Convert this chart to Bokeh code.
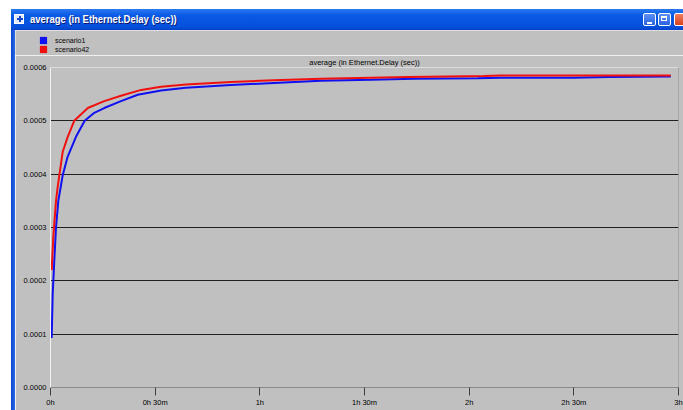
from bokeh.plotting import figure
from bokeh.models import (Range1d, FixedTicker, PrintfTickFormatter, Span, Legend, LegendItem, Div, Title)
from bokeh.layouts import column, row
from bokeh.embed import file_html
from bokeh.resources import INLINE

# ---- data (time in minutes, delay in seconds) ----
t_scenario1 = [0.34, 0.63, 1.09, 1.58, 2.24, 3.5, 4.93, 7.3, 9.8, 12.55, 15.4, 20.2, 25.0, 31.7,
               38.8, 51.7, 64.0, 77.5, 91.9, 104.2, 122.5, 129.0, 150.0, 160.0, 177.8]
v_scenario1 = [0.000093, 0.000176, 0.000238, 0.000300, 0.000350, 0.000398, 0.000433, 0.000470,
               0.000500, 0.000515, 0.000524, 0.000537, 0.000549, 0.000557, 0.000562, 0.000567,
               0.000571, 0.000575, 0.000577, 0.000579, 0.000580, 0.000581, 0.000581, 0.000582, 0.000583]

t_scenario42 = [0.34, 0.8, 1.09, 1.58, 2.06, 3.5, 4.93, 6.8, 10.7, 15.4, 20.2, 26.0, 31.7, 38.8,
                51.7, 64.0, 77.5, 102.6, 124.3, 129.0, 150.0, 177.8]
v_scenario42 = [0.000220, 0.000282, 0.000308, 0.000350, 0.000376, 0.000442, 0.000470, 0.000500,
                0.000524, 0.000537, 0.000547, 0.000558, 0.000564, 0.000568, 0.000573, 0.000576,
                0.000579, 0.000582, 0.000584, 0.000585, 0.000585, 0.000585]

series_names = ["scenario1", "scenario42"]
series_colors = ["#1010f0", "#f01010"]

x_ticks = [0, 30, 60, 90, 120, 150, 180]
x_tick_labels = ["0h", "0h 30m", "1h", "1h 30m", "2h", "2h 30m", "3h"]
y_ticks = [0.0, 0.0001, 0.0002, 0.0003, 0.0004, 0.0005, 0.0006]
grid_ticks = [0.0001, 0.0002, 0.0003, 0.0004, 0.0005]

X_MIN, X_MAX = 0, 180
Y_MIN, Y_MAX = 0.0, 0.0006

window_title = "average (in Ethernet.Delay (sec))"
chart_title = "average (in Ethernet.Delay (sec))"

GRAY = "#c0c0c0"
FONT = "Liberation Sans"
BORDER_BG = "linear-gradient(90deg, #0846d0, #2a6ae8)"

# ---------------- main chart ----------------
p = figure(width=668, height=355, output_backend="svg", toolbar_location=None, title=None,
           x_range=Range1d(X_MIN, X_MAX), y_range=Range1d(Y_MIN, Y_MAX),
           min_border_left=35, min_border_right=5, min_border_top=10, min_border_bottom=23,
           background_fill_color=GRAY, border_fill_color=GRAY, outline_line_color=None)

xa = p.xaxis[0]
xa.ticker = FixedTicker(ticks=x_ticks)
xa.major_label_overrides = {k: v for k, v in zip(x_ticks, x_tick_labels)}
xa.axis_line_color = "#8a8a8a"
xa.major_tick_line_color = "#404040"
xa.major_tick_out = 8
xa.major_tick_in = 0
xa.minor_tick_line_color = None
xa.major_label_standoff = 2
xa.major_label_text_font = FONT
xa.major_label_text_font_size = "7.5px"
xa.major_label_text_color = "#000000"

ya = p.yaxis[0]
ya.ticker = FixedTicker(ticks=y_ticks)
ya.formatter = PrintfTickFormatter(format="%.4f")
ya.axis_line_color = "#f2f2f2"
ya.major_tick_line_color = None
ya.major_tick_out = 0
ya.major_tick_in = 0
ya.minor_tick_line_color = None
ya.major_label_standoff = 4
ya.major_label_text_font = FONT
ya.major_label_text_font_size = "7.5px"
ya.major_label_text_color = "#000000"

p.xgrid.grid_line_color = None
p.ygrid.ticker = FixedTicker(ticks=grid_ticks)
p.ygrid.grid_line_color = "#202020"
p.ygrid.grid_line_width = 1

# frame edges (top light, right dark)
p.add_layout(Span(location=Y_MAX, dimension="width", line_color="#ececec", line_width=1))
p.add_layout(Span(location=X_MAX, dimension="height", line_color="#7a7a7a", line_width=1))

p.line(t_scenario1, v_scenario1, line_color=series_colors[0], line_width=2)
p.line(t_scenario42, v_scenario42, line_color=series_colors[1], line_width=2)

ttl = Title(text=chart_title, align="center", text_font=FONT, text_font_size="7.5px",
            text_font_style="normal", text_color="#000000", standoff=1)
p.add_layout(ttl, "above")

# ---------------- legend strip (above the chart title) ----------------
lf = figure(width=668, height=25, output_backend="svg", toolbar_location=None, title=None,
            x_axis_type=None, y_axis_type=None,
            min_border_left=0, min_border_right=0, min_border_top=0, min_border_bottom=0,
            background_fill_color=GRAY, border_fill_color=GRAY, outline_line_color=None)
lf.grid.grid_line_color = None
sw1 = lf.scatter(t_scenario1, v_scenario1, marker="square", size=0,
                 fill_color=series_colors[0], line_color=None)
sw2 = lf.scatter(t_scenario42, v_scenario42, marker="square", size=0,
                 fill_color=series_colors[1], line_color=None)
for name, sw, loc in zip(series_names, [sw1, sw2], [(19, 6), (19, -3)]):
    lg = Legend(items=[LegendItem(label=name, renderers=[sw])], location=loc,
                glyph_width=18, glyph_height=18, label_standoff=3, spacing=0,
                padding=0, margin=0, label_height=8, label_width=10,
                label_text_font=FONT, label_text_font_size="7px", label_text_color="#000000",
                border_line_color=None, background_fill_alpha=0)
    lf.add_layout(lg)

# ---------------- window chrome ----------------
title_html = f"""
<div style="position:relative;width:672px;height:21px;overflow:hidden;">
  <div style="position:absolute;left:3px;top:5px;width:10px;height:10px;background:#dfe8f8;border:1px solid #ffffff;"></div>
  <div style="position:absolute;left:6px;top:9px;width:6px;height:2px;background:#1848c8;"></div>
  <div style="position:absolute;left:8px;top:7px;width:2px;height:6px;background:#1848c8;"></div>
  <div style="position:absolute;left:19px;top:3px;color:#ffffff;font-family:'Liberation Sans',sans-serif;font-weight:bold;font-size:11px;line-height:14px;white-space:nowrap;transform:scaleX(0.86);transform-origin:left center;text-shadow:1px 1px #0a1870;">{window_title}</div>
  <div style="position:absolute;left:632px;top:4px;width:13px;height:13px;border:1px solid #ffffff;border-radius:2px;background:linear-gradient(#5c92f4,#2a62e0);"></div>
  <div style="position:absolute;left:636px;top:13px;width:5px;height:2px;background:#ffffff;"></div>
  <div style="position:absolute;left:647px;top:4px;width:13px;height:13px;border:1px solid #ffffff;border-radius:2px;background:linear-gradient(#5c92f4,#2a62e0);"></div>
  <div style="position:absolute;left:650px;top:7px;width:6px;height:5px;border:1px solid #ffffff;border-top:2px solid #ffffff;"></div>
  <div style="position:absolute;left:663px;top:4px;width:13px;height:13px;border:1px solid #ffffff;border-radius:2px;background:linear-gradient(#f08060,#d8401c);"></div>
</div>
"""
title_bar = Div(text=title_html, width=672, height=21, margin=0,
                styles={"background": "linear-gradient(#2a7af0, #0a5ae6 30%, #0550dc 85%, #0440c8)"})
border_top = Div(text="", width=4, height=25, margin=0, styles={"background": BORDER_BG})
border_bottom = Div(text="", width=4, height=355, margin=0, styles={"background": BORDER_BG})

layout = column(title_bar,
                row(border_top, lf, spacing=0, margin=0),
                row(border_bottom, p, spacing=0, margin=0),
                spacing=0, margin=(9, 0, 0, 11))

open("out.html", "w").write(file_html(layout, INLINE))
